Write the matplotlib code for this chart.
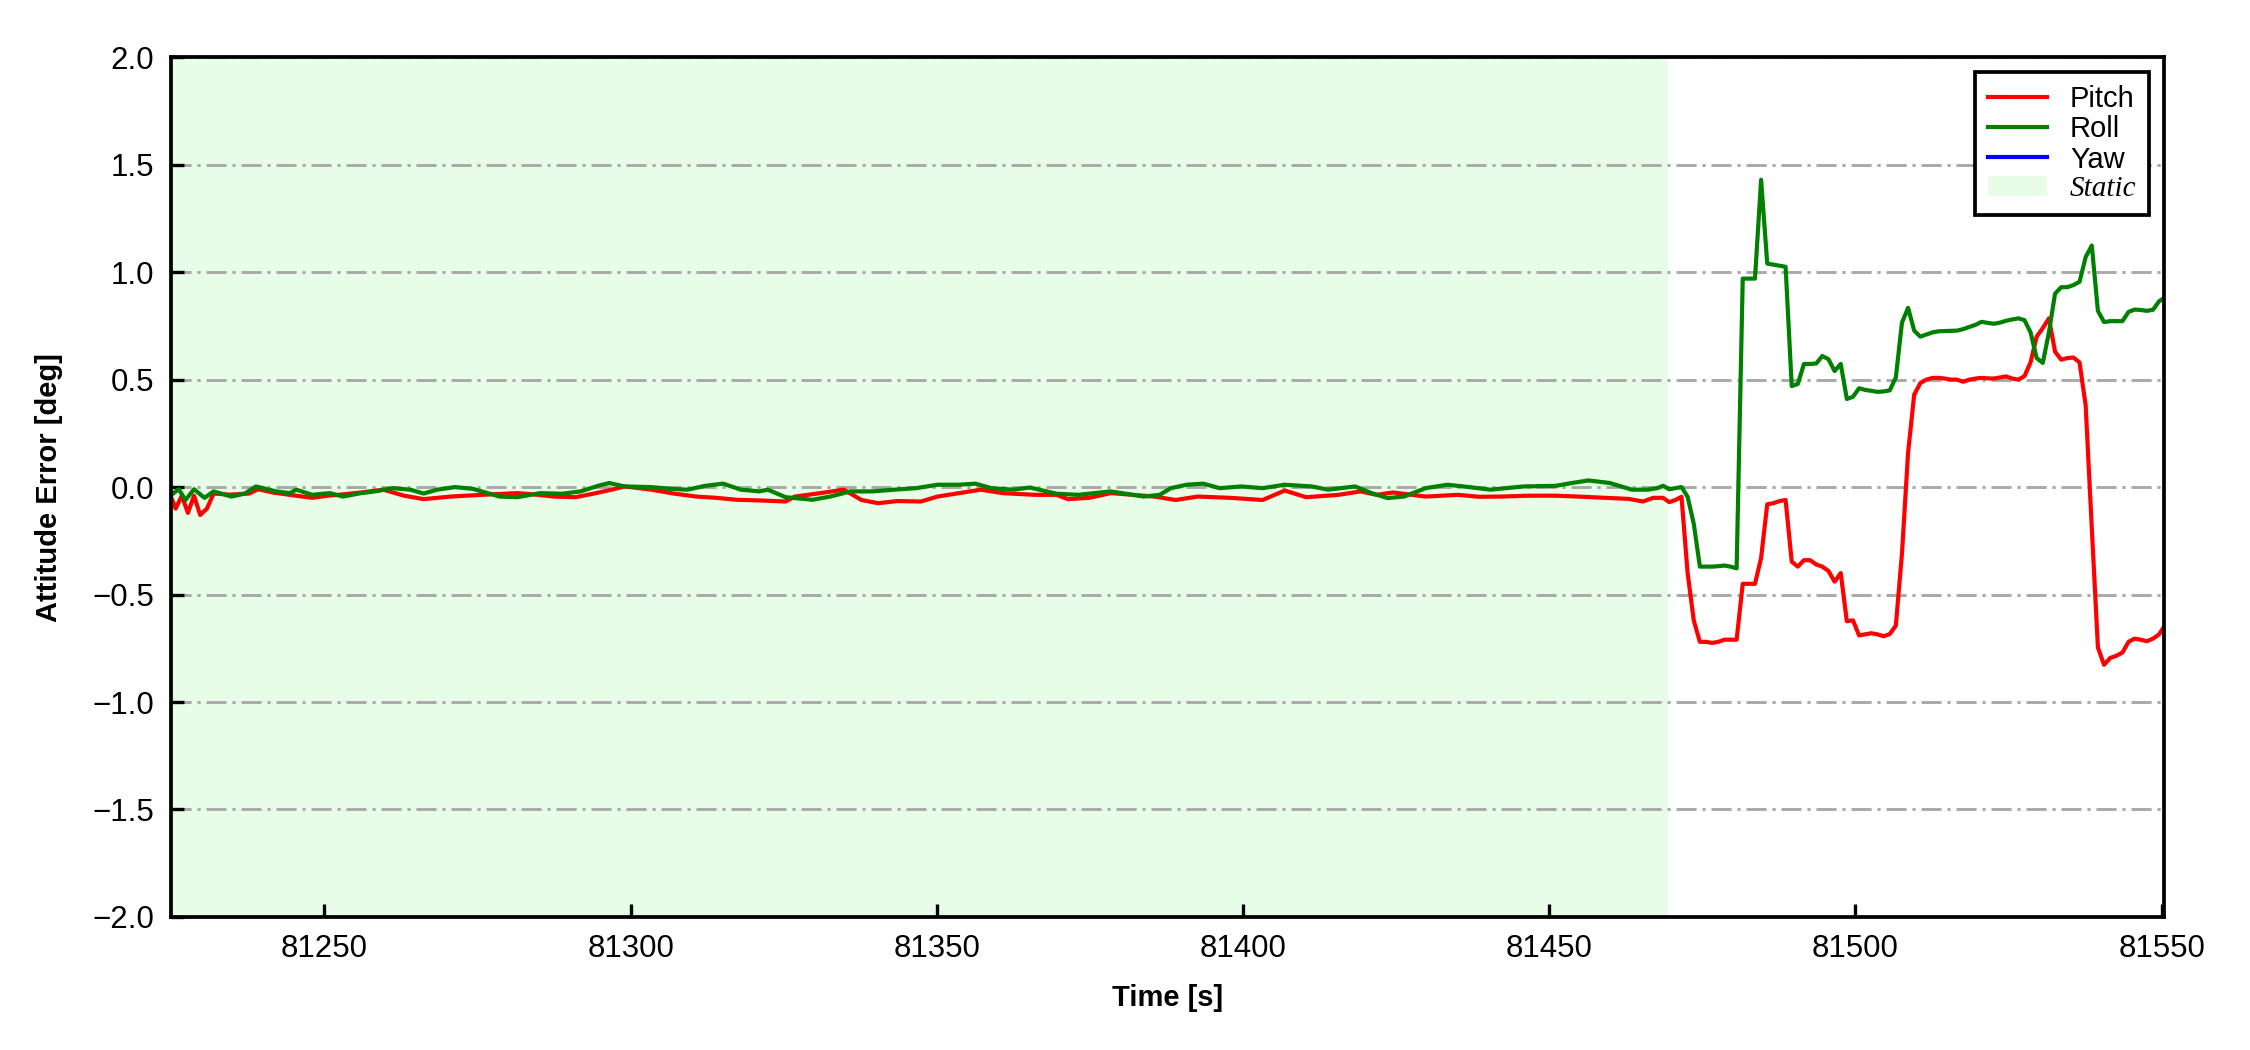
import numpy as np
import matplotlib
matplotlib.use("Agg")
import matplotlib.pyplot as plt
from matplotlib.font_manager import FontProperties

plt.rcParams['font.family'] = ['Liberation Sans', 'DejaVu Sans']

# ---------------- data ----------------
# static segment
pitch_static_t = [81225.0, 81225.7, 81226.7, 81227.7, 81228.7, 81229.7, 81230.8, 81231.9, 81234.5, 81237.7,
                  81239.2, 81241.5, 81244.3, 81248.0, 81250.5, 81252.3, 81256.0, 81259.6, 81263.0, 81266.2,
                  81270.6, 81275.7, 81281.5, 81284.5, 81287.4, 81291.0, 81294.0, 81296.9, 81299.0, 81303.4,
                  81307.0, 81310.7, 81314.0, 81317.3, 81321.0, 81325.3, 81326.8, 81330.5, 81334.8, 81337.7,
                  81340.4, 81343.5, 81347.4, 81350.1, 81353.6, 81357.2, 81360.7, 81366.0, 81369.5, 81371.4,
                  81374.9, 81378.4, 81382.0, 81385.5, 81389.0, 81392.6, 81397.9, 81403.2, 81406.8, 81410.3,
                  81415.6, 81419.2, 81421.8, 81424.5, 81429.8, 81435.1, 81438.5, 81442.2, 81446.5, 81451.1,
                  81455.5, 81459.9, 81463.0, 81465.3, 81467.0]
pitch_static_v = [-0.05, -0.10, -0.04, -0.12, -0.04, -0.13, -0.10, -0.03, -0.035, -0.03,
                  -0.01, -0.025, -0.036, -0.05, -0.04, -0.036, -0.025, -0.012, -0.04, -0.056,
                  -0.044, -0.036, -0.028, -0.035, -0.044, -0.047, -0.03, -0.012, 0.003, -0.012,
                  -0.03, -0.044, -0.05, -0.059, -0.062, -0.067, -0.044, -0.03, -0.012, -0.06,
                  -0.075, -0.065, -0.067, -0.044, -0.028, -0.012, -0.028, -0.036, -0.036, -0.056,
                  -0.05, -0.028, -0.036, -0.044, -0.06, -0.044, -0.05, -0.06, -0.016, -0.047,
                  -0.036, -0.02, -0.036, -0.025, -0.044, -0.036, -0.045, -0.044, -0.04, -0.04,
                  -0.045, -0.051, -0.055, -0.067, -0.05]

roll_static_t = [81225.0, 81226.2, 81227.3, 81228.7, 81230.4, 81231.9, 81234.8, 81237.0, 81238.8, 81242.1,
                 81244.3, 81245.4, 81248.0, 81250.9, 81253.0, 81256.0, 81258.2, 81261.1, 81264.0, 81266.2,
                 81268.4, 81271.3, 81274.2, 81278.6, 81281.5, 81285.2, 81288.8, 81291.8, 81294.7, 81296.5,
                 81299.0, 81303.4, 81306.4, 81309.3, 81312.2, 81315.1, 81318.0, 81321.0, 81322.4, 81325.3,
                 81329.7, 81332.6, 81335.9, 81339.5, 81343.0, 81346.6, 81350.1, 81353.6, 81356.3, 81358.9,
                 81362.5, 81365.2, 81369.6, 81373.1, 81378.4, 81383.8, 81386.4, 81388.2, 81390.8, 81393.5,
                 81396.2, 81399.7, 81403.2, 81406.8, 81411.2, 81413.9, 81418.3, 81421.0, 81423.6, 81426.3,
                 81429.8, 81433.4, 81436.9, 81440.4, 81445.8, 81451.1, 81453.7, 81456.4, 81459.9, 81463.5,
                 81466.1]
roll_static_v = [-0.036, -0.01, -0.06, -0.01, -0.05, -0.02, -0.044, -0.03, 0.003, -0.02,
                 -0.028, -0.012, -0.036, -0.028, -0.044, -0.028, -0.02, -0.005, -0.012, -0.03,
                 -0.012, 0.0, -0.008, -0.044, -0.047, -0.028, -0.031, -0.02, 0.006, 0.019,
                 0.003, 0.0, -0.008, -0.012, 0.006, 0.016, -0.012, -0.02, -0.012, -0.047,
                 -0.059, -0.044, -0.02, -0.02, -0.012, -0.005, 0.011, 0.011, 0.016, -0.005,
                 -0.012, -0.002, -0.031, -0.036, -0.02, -0.044, -0.036, -0.005, 0.011, 0.016,
                 -0.005, 0.003, -0.005, 0.011, 0.003, -0.012, 0.003, -0.028, -0.051, -0.044,
                 -0.005, 0.011, 0.0, -0.012, 0.003, 0.006, 0.019, 0.031, 0.019, -0.012,
                 -0.012]

# dynamic segment, ~1 s sampling starting at 81467.6 s
dyn_t = [81467.6, 81468.6, 81469.6, 81470.6, 81471.6, 81472.6, 81473.6, 81474.6, 81475.6, 81476.6,
         81477.6, 81478.6, 81479.6, 81480.6, 81481.6, 81482.6, 81483.6, 81484.6, 81485.6, 81486.6,
         81487.6, 81488.6, 81489.6, 81490.6, 81491.6, 81492.6, 81493.6, 81494.6, 81495.6, 81496.6,
         81497.6, 81498.6, 81499.6, 81500.6, 81501.6, 81502.6, 81503.6, 81504.6, 81505.6, 81506.6,
         81507.6, 81508.6, 81509.6, 81510.6, 81511.6, 81512.6, 81513.6, 81514.6, 81515.6, 81516.6,
         81517.6, 81518.6, 81519.6, 81520.6, 81521.6, 81522.6, 81523.6, 81524.6, 81525.6, 81526.6,
         81527.6, 81528.6, 81529.6, 81530.6, 81531.6, 81532.6, 81533.6, 81534.6, 81535.6, 81536.6,
         81537.6, 81538.6, 81539.6, 81540.6, 81541.6, 81542.6, 81543.6, 81544.6, 81545.6, 81546.6,
         81547.6, 81548.6, 81549.6, 81550.6]
pitch_dyn = [-0.05, -0.05, -0.07, -0.06, -0.045, -0.40, -0.62, -0.72, -0.72, -0.725,
             -0.72, -0.71, -0.71, -0.71, -0.45, -0.45, -0.45, -0.33, -0.08, -0.075,
             -0.065, -0.06, -0.347, -0.37, -0.34, -0.34, -0.36, -0.37, -0.39, -0.44,
             -0.40, -0.624, -0.62, -0.69, -0.685, -0.68, -0.685, -0.694, -0.684, -0.645,
             -0.31, 0.16, 0.43, 0.484, 0.50, 0.508, 0.508, 0.505, 0.50, 0.50,
             0.49, 0.50, 0.505, 0.508, 0.506, 0.505, 0.51, 0.515, 0.505, 0.50,
             0.516, 0.58, 0.70, 0.74, 0.785, 0.63, 0.593, 0.60, 0.603, 0.58,
             0.38, -0.19, -0.746, -0.827, -0.795, -0.785, -0.77, -0.72, -0.705, -0.71,
             -0.717, -0.705, -0.685, -0.64]
roll_dyn = [-0.005, 0.006, -0.01, -0.005, 0.0, -0.045, -0.17, -0.37, -0.37, -0.37,
            -0.368, -0.365, -0.37, -0.378, 0.97, 0.97, 0.97, 1.43, 1.04, 1.035,
            1.03, 1.025, 0.47, 0.48, 0.573, 0.573, 0.575, 0.61, 0.595, 0.54,
            0.573, 0.41, 0.42, 0.46, 0.452, 0.448, 0.443, 0.445, 0.45, 0.51,
            0.765, 0.834, 0.728, 0.70, 0.71, 0.72, 0.725, 0.726, 0.727, 0.728,
            0.735, 0.745, 0.755, 0.769, 0.764, 0.76, 0.765, 0.774, 0.78, 0.785,
            0.777, 0.72, 0.60, 0.578, 0.72, 0.90, 0.93, 0.93, 0.94, 0.955,
            1.07, 1.124, 0.82, 0.768, 0.772, 0.772, 0.772, 0.815, 0.826, 0.824,
            0.82, 0.825, 0.865, 0.883]
yaw_t = []
yaw_v = []

static_start = 81224.9
static_end = 81469.4
x_limits = (81224.9, 81550.4)
y_limits = (-2.0, 2.0)
x_ticks = [81250, 81300, 81350, 81400, 81450, 81500, 81550]
y_ticks = [-2.0, -1.5, -1.0, -0.5, 0.0, 0.5, 1.0, 1.5, 2.0]

pitch_t = pitch_static_t + dyn_t
pitch_v = pitch_static_v + pitch_dyn
roll_t = roll_static_t + dyn_t
roll_v = roll_static_v + roll_dyn

# ---------------- plot ----------------
fig = plt.figure(figsize=(7.5, 3.5), dpi=300)
ax = fig.add_axes([0.0759, 0.1267, 0.9618 - 0.0759, 0.9455 - 0.1267])

ax.axvspan(static_start, static_end, facecolor='#e8fde8', edgecolor='none', label='Static', zorder=0.3)
ax.plot(pitch_t, pitch_v, color='red', lw=1.0, label='Pitch', zorder=2)
ax.plot(roll_t, roll_v, color='green', lw=1.0, label='Roll', zorder=2.1)
ax.plot(yaw_t, yaw_v, color='blue', lw=1.0, label='Yaw', zorder=2.2)

ax.set_xlim(*x_limits)
ax.set_ylim(*y_limits)
ax.set_xticks(x_ticks)
ax.set_yticks(y_ticks)
ax.set_yticklabels([f"{v:.1f}".replace('-', '\u2212') for v in y_ticks])
ax.set_xticklabels([str(v) for v in x_ticks])

ax.yaxis.grid(True, color='#a9a9a9', lw=0.7, linestyle=(0, (6.9, 2.0, 1.1, 2.0)))
ax.xaxis.grid(False)

ax.tick_params(direction='in', length=3.2, width=0.8, labelsize=7.5, pad=4)
for s in ax.spines.values():
    s.set_linewidth(0.9)

ax.set_xlabel('Time [s]', fontsize=7, fontweight='bold', labelpad=5)
ax.set_ylabel('Attitude Error [deg]', fontsize=7, fontweight='bold', labelpad=7)

handles, labels = ax.get_legend_handles_labels()
order = [labels.index(k) for k in ['Pitch', 'Roll', 'Yaw', 'Static']]
leg = ax.legend([handles[i] for i in order], [labels[i] for i in order],
                loc='upper right', fontsize=7, frameon=True, fancybox=False,
                edgecolor='black', framealpha=1, labelspacing=0.08,
                handlelength=2.0, handletextpad=0.8, borderpad=0.45)
leg.get_frame().set_linewidth(0.9)
leg.get_texts()[-1].set_fontproperties(FontProperties(family='Liberation Serif', style='italic', size=7))

fig.savefig('out.png', dpi=300)
